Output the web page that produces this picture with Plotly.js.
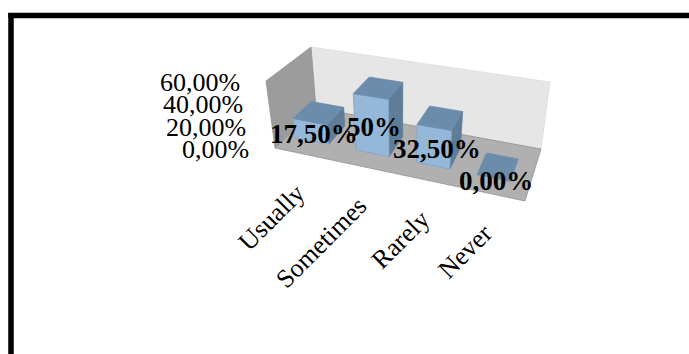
<!DOCTYPE html>
<html><head><meta charset="utf-8">
<script src="https://cdn.plot.ly/plotly-3.0.1.min.js"></script>
<style>html,body{margin:0;padding:0;background:#fff}#c{width:689px;height:354px}</style>
</head><body><div id="c"></div>
<script>
const categories = ["Usually","Sometimes","Rarely","Never"];
const values = [17.5,50,32.5,0];
const valueLabels = ["17,50%","50%","32,50%","0,00%"];
const axisTicks = [0,20,40,60];
const axisTickLabels = ["0,00%","20,00%","40,00%","60,00%"];

// projection of the 3D chart box (x: 0..4, y: 0..1 depth, z: 0..60) on to the page
const box = {
  b00:[275,148], b40:[525,201], b01:[316,108], b41:[541,149],
  t00:[266,81],  t40:[534,124], t01:[311,47],  t41:[550,82]
};
function proj(x,y,z){
  const u=x/4, w=z/60;
  const mix=(a,b,t)=>[a[0]+(b[0]-a[0])*t,a[1]+(b[1]-a[1])*t];
  const bot=mix(mix(box.b00,box.b40,u),mix(box.b01,box.b41,u),y);
  const top=mix(mix(box.t00,box.t40,u),mix(box.t01,box.t41,u),y);
  return mix(bot,top,w);
}
function face(pts,color,line){
  const p=pts.map(a=>proj(a[0],a[1],a[2])); p.push(p[0]);
  return {type:'scatter',mode:'lines',x:p.map(a=>a[0]),y:p.map(a=>a[1]),fill:'toself',fillcolor:color,
    line:{color:line||color,width:0.75},hoverinfo:'skip',showlegend:false};
}
const traces=[];
traces.push(face([[0,1,0],[4,1,0],[4,1,60],[0,1,60]],'#E6E6E6','#DADADA'));
traces.push(face([[0,0,0],[0,1,0],[0,1,60],[0,0,60]],'#9C9C9C','#909090'));
traces.push(face([[0,0,0],[4,0,0],[4,1,0],[0,1,0]],'#B0B0B0','#8E8E8E'));
const L=0.13,R=0.68,F=0.3,B=0.74;
values.forEach((v,i)=>{
  const a=i+L,b=i+R;
  if(v>0){
    traces.push(face([[b,F,0],[b,B,0],[b,B,v],[b,F,v]],'#5F7C99'));
    traces.push(face([[a,F,0],[b,F,0],[b,F,v],[a,F,v]],'#95B8D9','#7FA3C6'));
  }
  traces.push(face([[a,F,v],[b,F,v],[b,B,v],[a,B,v]],'#6C8CAB'));
});
const serif='"Liberation Serif","Times New Roman",serif';
const ann=[];
axisTicks.forEach((t,i)=>{
  const p=proj(0,0,t);
  ann.push({x:p[0]-24,y:p[1]+1.5,text:axisTickLabels[i],showarrow:false,xanchor:'right',yanchor:'middle',
    font:{family:serif,size:26,color:'#000'}});
});
categories.forEach((c,i)=>{
  const p=proj(i+0.5,0,0);
  ann.push({x:p[0]+7,y:p[1]+21,text:c,showarrow:false,textangle:-45,xanchor:'right',yanchor:'top',
    font:{family:serif,size:26,color:'#000'}});
});
values.forEach((v,i)=>{
  const p=proj(i+0.45,F,v/2);
  ann.push({x:p[0],y:p[1]+2,text:valueLabels[i],showarrow:false,xanchor:'center',yanchor:'middle',
    font:{family:serif,size:27,color:'#000',weight:700}});
});
const layout={width:689,height:354,margin:{l:0,r:0,t:0,b:0},paper_bgcolor:'#fff',plot_bgcolor:'#fff',showlegend:false,
  xaxis:{range:[0,689],visible:false,fixedrange:true},
  yaxis:{range:[354,0],visible:false,fixedrange:true},
  annotations:ann,
  shapes:[
    {type:'line',xref:'x',yref:'y',x0:8.3,x1:689,y0:15.5,y1:15.5,line:{color:'#000',width:5.5}},
    {type:'line',xref:'x',yref:'y',x0:11,x1:11,y0:13,y1:354,line:{color:'#000',width:5.5}}
  ]};
Plotly.newPlot('c',traces,layout,{displayModeBar:false,staticPlot:true});
</script></body></html>
